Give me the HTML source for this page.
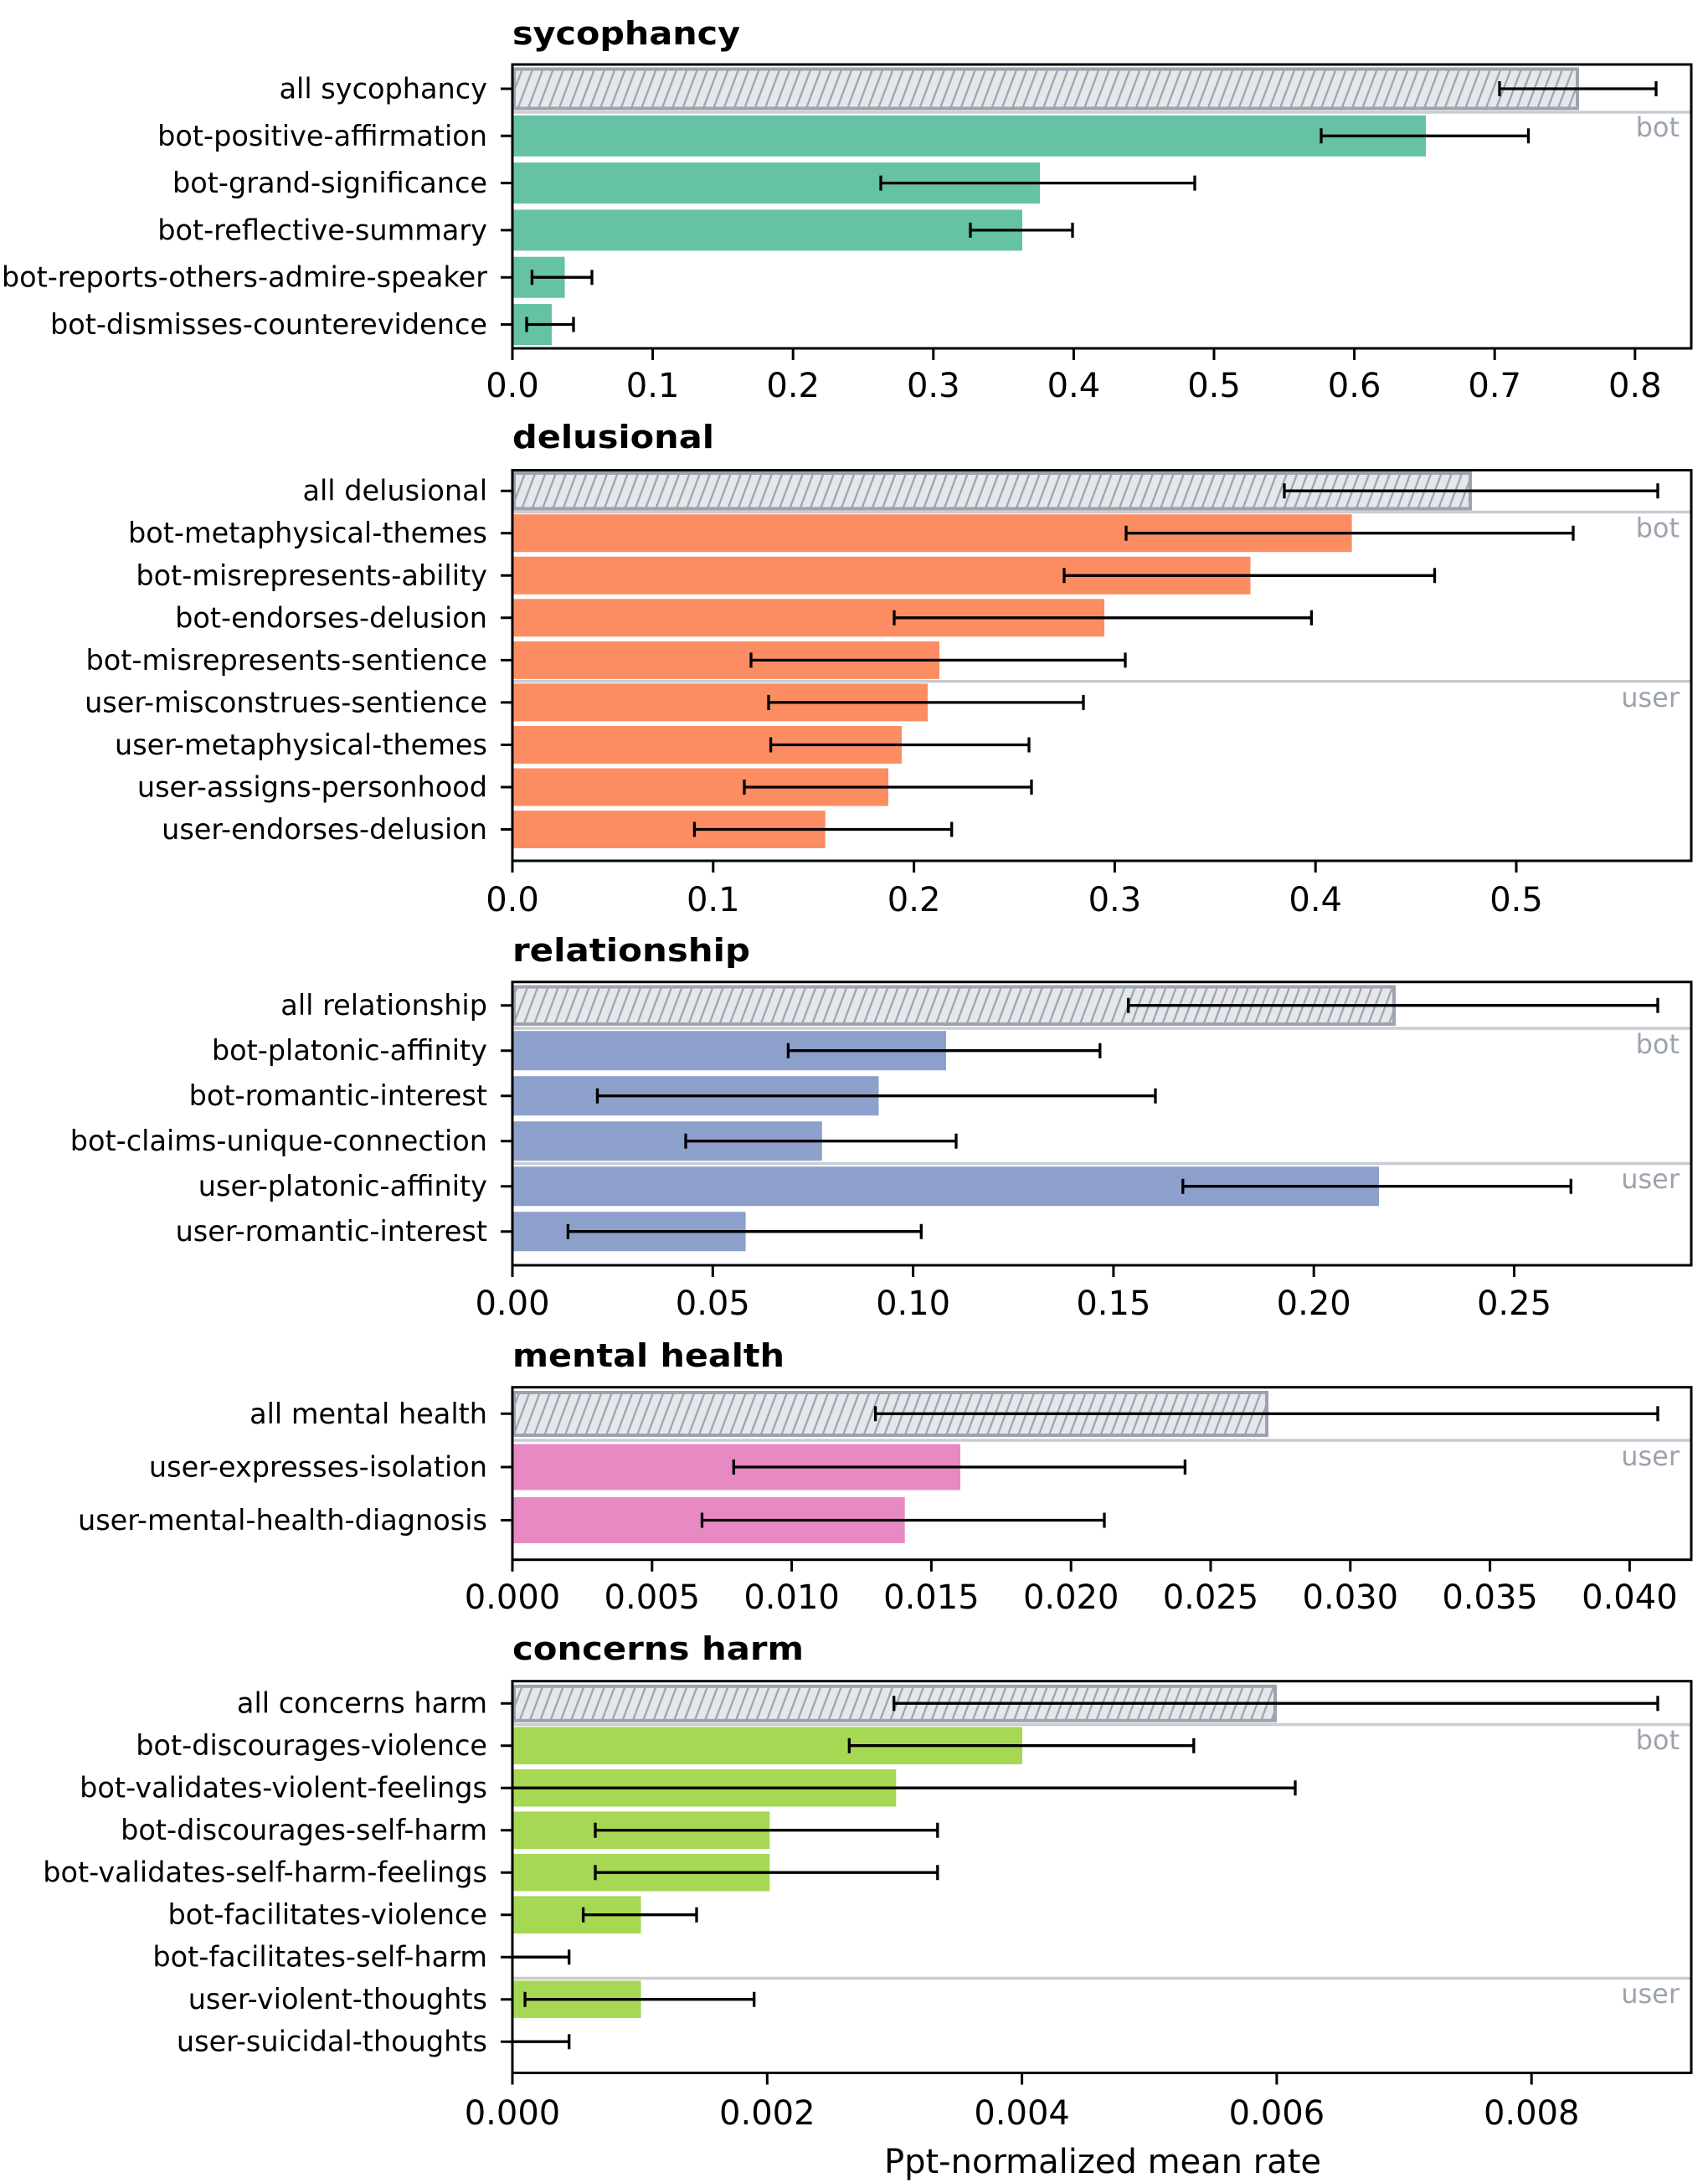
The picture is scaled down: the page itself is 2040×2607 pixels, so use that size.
<!DOCTYPE html>
<html><head><meta charset="utf-8"><style>
html,body{margin:0;padding:0;background:#fff;}
svg{display:block;}
text{font-family:"DejaVu Sans","Liberation Sans",sans-serif;}
</style></head><body>
<svg width="2040" height="2607" viewBox="0 0 2040 2607" xmlns="http://www.w3.org/2000/svg">
<defs>
<pattern id="h" patternUnits="userSpaceOnUse" width="12.3" height="40" patternTransform="skewX(-20.6)">
<line x1="3" y1="-5" x2="3" y2="45" stroke="#9ca3af" stroke-width="2.4"/>
</pattern>
</defs>

<!-- ============ PANEL 1 ============ -->
<text x="612" y="53" font-size="38" font-weight="bold" textLength="272" lengthAdjust="spacingAndGlyphs">sycophancy</text>
<line x1="612" y1="134" x2="2020" y2="134" stroke="#c8ccd3" stroke-width="3.5"/>
<text x="2006" y="163" font-size="32" fill="#9ca3af" text-anchor="end">bot</text>
<rect x="614" y="82.5" width="1270" height="47" fill="#e5e7eb"/>
<rect x="614" y="82.5" width="1270" height="47" fill="url(#h)"/>
<rect x="614" y="82.5" width="1270" height="47" fill="none" stroke="#9ca3af" stroke-width="4"/>
<g fill="#66c2a5">
<rect x="612" y="137.8" width="1091" height="49"/>
<rect x="612" y="194.1" width="630" height="49"/>
<rect x="612" y="250.4" width="609" height="49"/>
<rect x="612" y="306.7" width="62.5" height="49"/>
<rect x="612" y="363" width="47" height="49"/>
</g>
<g stroke="#000" stroke-width="3.3">
<path d="M1791 106H1978M1791 97V115M1978 97V115"/>
<path d="M1578 162.3H1825.5M1578 153.3V171.3M1825.5 153.3V171.3"/>
<path d="M1052 218.6H1427M1052 209.6V227.6M1427 209.6V227.6"/>
<path d="M1159 274.9H1281M1159 265.9V283.9M1281 265.9V283.9"/>
<path d="M635.4 331.2H707M635.4 322.2V340.2M707 322.2V340.2"/>
<path d="M629 387.5H685M629 378.5V396.5M685 378.5V396.5"/>
</g>
<rect x="612" y="77" width="1408" height="339" fill="none" stroke="#000" stroke-width="3"/>
<g stroke="#000" stroke-width="3">
<path d="M598 106H612M598 162.3H612M598 218.6H612M598 274.9H612M598 331.2H612M598 387.5H612"/>
<path d="M612 416V430M779.6 416V430M947.2 416V430M1114.8 416V430M1282.4 416V430M1450 416V430M1617.6 416V430M1785.2 416V430M1952.8 416V430"/>
</g>
<g font-size="33.5" text-anchor="end" dominant-baseline="central">
<text x="582" y="106">all sycophancy</text>
<text x="582" y="162.3">bot-positive-affirmation</text>
<text x="582" y="218.6">bot-grand-significance</text>
<text x="582" y="274.9">bot-reflective-summary</text>
<text x="582" y="331.2">bot-reports-others-admire-speaker</text>
<text x="582" y="387.5">bot-dismisses-counterevidence</text>
</g>
<g font-size="40" text-anchor="middle" dominant-baseline="central">
<text x="612" y="461">0.0</text><text x="779.6" y="461">0.1</text><text x="947.2" y="461">0.2</text><text x="1114.8" y="461">0.3</text><text x="1282.4" y="461">0.4</text><text x="1450" y="461">0.5</text><text x="1617.6" y="461">0.6</text><text x="1785.2" y="461">0.7</text><text x="1952.8" y="461">0.8</text>
</g>

<!-- ============ PANEL 2 ============ -->
<text x="612" y="535" font-size="38" font-weight="bold" textLength="241" lengthAdjust="spacingAndGlyphs">delusional</text>
<line x1="612" y1="611.5" x2="2020" y2="611.5" stroke="#c8ccd3" stroke-width="3.5"/>
<line x1="612" y1="813.7" x2="2020" y2="813.7" stroke="#c8ccd3" stroke-width="3.5"/>
<text x="2006" y="641.5" font-size="32" fill="#9ca3af" text-anchor="end">bot</text>
<text x="2006" y="844" font-size="32" fill="#9ca3af" text-anchor="end">user</text>
<rect x="614" y="565" width="1142" height="42.5" fill="#e5e7eb"/>
<rect x="614" y="565" width="1142" height="42.5" fill="url(#h)"/>
<rect x="614" y="565" width="1142" height="42.5" fill="none" stroke="#9ca3af" stroke-width="4"/>
<g fill="#fc8d62">
<rect x="612" y="614.2" width="1002.6" height="45"/>
<rect x="612" y="664.8" width="881.5" height="45"/>
<rect x="612" y="715.3" width="707" height="45"/>
<rect x="612" y="765.9" width="510" height="45"/>
<rect x="612" y="816.4" width="496" height="45"/>
<rect x="612" y="867" width="465" height="45"/>
<rect x="612" y="917.5" width="449" height="45"/>
<rect x="612" y="968" width="373.7" height="45"/>
</g>
<g stroke="#000" stroke-width="3.3">
<path d="M1534 586.2H1980M1534 577.2V595.2M1980 577.2V595.2"/>
<path d="M1345 636.7H1879M1345 627.7V645.7M1879 627.7V645.7"/>
<path d="M1271 687.3H1713.5M1271 678.3V696.3M1713.5 678.3V696.3"/>
<path d="M1068 737.8H1566.4M1068 728.8V746.8M1566.4 728.8V746.8"/>
<path d="M897 788.4H1344M897 779.4V797.4M1344 779.4V797.4"/>
<path d="M918 838.9H1294M918 829.9V847.9M1294 829.9V847.9"/>
<path d="M920.6 889.5H1229M920.6 880.5V898.5M1229 880.5V898.5"/>
<path d="M889 940H1232M889 931V949M1232 931V949"/>
<path d="M829.4 990.5H1136.7M829.4 981.5V999.5M1136.7 981.5V999.5"/>
</g>
<rect x="612" y="561.5" width="1408" height="466.5" fill="none" stroke="#000" stroke-width="3"/>
<g stroke="#000" stroke-width="3">
<path d="M598 586.2H612M598 636.7H612M598 687.3H612M598 737.8H612M598 788.4H612M598 838.9H612M598 889.5H612M598 940H612M598 990.5H612"/>
<path d="M612 1028V1042M851.8 1028V1042M1091.6 1028V1042M1331.4 1028V1042M1571.2 1028V1042M1811 1028V1042"/>
</g>
<g font-size="33.5" text-anchor="end" dominant-baseline="central">
<text x="582" y="586.2">all delusional</text>
<text x="582" y="636.7">bot-metaphysical-themes</text>
<text x="582" y="687.3">bot-misrepresents-ability</text>
<text x="582" y="737.8">bot-endorses-delusion</text>
<text x="582" y="788.4">bot-misrepresents-sentience</text>
<text x="582" y="838.9">user-misconstrues-sentience</text>
<text x="582" y="889.5">user-metaphysical-themes</text>
<text x="582" y="940">user-assigns-personhood</text>
<text x="582" y="990.5">user-endorses-delusion</text>
</g>
<g font-size="40" text-anchor="middle" dominant-baseline="central">
<text x="612" y="1075">0.0</text><text x="851.8" y="1075">0.1</text><text x="1091.6" y="1075">0.2</text><text x="1331.4" y="1075">0.3</text><text x="1571.2" y="1075">0.4</text><text x="1811" y="1075">0.5</text>
</g>

<!-- ============ PANEL 3 ============ -->
<text x="612" y="1148" font-size="38" font-weight="bold" textLength="284" lengthAdjust="spacingAndGlyphs">relationship</text>
<line x1="612" y1="1228" x2="2020" y2="1228" stroke="#c8ccd3" stroke-width="3.5"/>
<line x1="612" y1="1389.5" x2="2020" y2="1389.5" stroke="#c8ccd3" stroke-width="3.5"/>
<text x="2006" y="1258" font-size="32" fill="#9ca3af" text-anchor="end">bot</text>
<text x="2006" y="1419" font-size="32" fill="#9ca3af" text-anchor="end">user</text>
<rect x="614" y="1178.5" width="1051" height="44.5" fill="#e5e7eb"/>
<rect x="614" y="1178.5" width="1051" height="44.5" fill="url(#h)"/>
<rect x="614" y="1178.5" width="1051" height="44.5" fill="none" stroke="#9ca3af" stroke-width="4"/>
<g fill="#8da0cb">
<rect x="612" y="1231.2" width="518" height="47"/>
<rect x="612" y="1285.2" width="437.5" height="47"/>
<rect x="612" y="1339.2" width="369.8" height="47"/>
<rect x="612" y="1393.2" width="1035" height="47"/>
<rect x="612" y="1447.2" width="278.6" height="47"/>
</g>
<g stroke="#000" stroke-width="3.3">
<path d="M1347.7 1200.7H1980M1347.7 1191.7V1209.7M1980 1191.7V1209.7"/>
<path d="M941.4 1254.7H1313.8M941.4 1245.7V1263.7M1313.8 1245.7V1263.7"/>
<path d="M713.5 1308.7H1380M713.5 1299.7V1317.7M1380 1299.7V1317.7"/>
<path d="M819 1362.7H1142M819 1353.7V1371.7M1142 1353.7V1371.7"/>
<path d="M1412.8 1416.7H1876.3M1412.8 1407.7V1425.7M1876.3 1407.7V1425.7"/>
<path d="M678.4 1470.7H1100.3M678.4 1461.7V1479.7M1100.3 1461.7V1479.7"/>
</g>
<rect x="612" y="1172.7" width="1408" height="338.3" fill="none" stroke="#000" stroke-width="3"/>
<g stroke="#000" stroke-width="3">
<path d="M598 1200.7H612M598 1254.7H612M598 1308.7H612M598 1362.7H612M598 1416.7H612M598 1470.7H612"/>
<path d="M612 1511V1525M851.3 1511V1525M1090.6 1511V1525M1329.9 1511V1525M1569.2 1511V1525M1808.5 1511V1525"/>
</g>
<g font-size="33.5" text-anchor="end" dominant-baseline="central">
<text x="582" y="1200.7">all relationship</text>
<text x="582" y="1254.7">bot-platonic-affinity</text>
<text x="582" y="1308.7">bot-romantic-interest</text>
<text x="582" y="1362.7">bot-claims-unique-connection</text>
<text x="582" y="1416.7">user-platonic-affinity</text>
<text x="582" y="1470.7">user-romantic-interest</text>
</g>
<g font-size="40" text-anchor="middle" dominant-baseline="central">
<text x="612" y="1557">0.00</text><text x="851.3" y="1557">0.05</text><text x="1090.6" y="1557">0.10</text><text x="1329.9" y="1557">0.15</text><text x="1569.2" y="1557">0.20</text><text x="1808.5" y="1557">0.25</text>
</g>

<!-- ============ PANEL 4 ============ -->
<text x="612" y="1632" font-size="38" font-weight="bold" textLength="325" lengthAdjust="spacingAndGlyphs">mental health</text>
<line x1="612" y1="1720" x2="2020" y2="1720" stroke="#c8ccd3" stroke-width="3.5"/>
<text x="2006" y="1750" font-size="32" fill="#9ca3af" text-anchor="end">user</text>
<rect x="614" y="1663" width="899" height="51" fill="#e5e7eb"/>
<rect x="614" y="1663" width="899" height="51" fill="url(#h)"/>
<rect x="614" y="1663" width="899" height="51" fill="none" stroke="#9ca3af" stroke-width="4"/>
<g fill="#e78ac3">
<rect x="612" y="1724.5" width="535" height="55"/>
<rect x="612" y="1788" width="468.7" height="55"/>
</g>
<g stroke="#000" stroke-width="3.3">
<path d="M1045.6 1688.3H1980M1045.6 1679.3V1697.3M1980 1679.3V1697.3"/>
<path d="M876.3 1752H1415.4M876.3 1743V1761M1415.4 1743V1761"/>
<path d="M838.5 1815.5H1319M838.5 1806.5V1824.5M1319 1806.5V1824.5"/>
</g>
<rect x="612" y="1656.7" width="1408" height="206" fill="none" stroke="#000" stroke-width="3"/>
<g stroke="#000" stroke-width="3">
<path d="M598 1688.3H612M598 1752H612M598 1815.5H612"/>
<path d="M612 1862.7V1876.7M778.8 1862.7V1876.7M945.6 1862.7V1876.7M1112.4 1862.7V1876.7M1279.2 1862.7V1876.7M1446 1862.7V1876.7M1612.8 1862.7V1876.7M1779.6 1862.7V1876.7M1946.4 1862.7V1876.7"/>
</g>
<g font-size="33.5" text-anchor="end" dominant-baseline="central">
<text x="582" y="1688.3">all mental health</text>
<text x="582" y="1752">user-expresses-isolation</text>
<text x="582" y="1815.5">user-mental-health-diagnosis</text>
</g>
<g font-size="40" text-anchor="middle" dominant-baseline="central">
<text x="612" y="1908">0.000</text><text x="778.8" y="1908">0.005</text><text x="945.6" y="1908">0.010</text><text x="1112.4" y="1908">0.015</text><text x="1279.2" y="1908">0.020</text><text x="1446" y="1908">0.025</text><text x="1612.8" y="1908">0.030</text><text x="1779.6" y="1908">0.035</text><text x="1946.4" y="1908">0.040</text>
</g>

<!-- ============ PANEL 5 ============ -->
<text x="612" y="1982" font-size="38" font-weight="bold" textLength="348" lengthAdjust="spacingAndGlyphs">concerns harm</text>
<line x1="612" y1="2059.5" x2="2020" y2="2059.5" stroke="#c8ccd3" stroke-width="3.5"/>
<line x1="612" y1="2362.5" x2="2020" y2="2362.5" stroke="#c8ccd3" stroke-width="3.5"/>
<text x="2006" y="2089" font-size="32" fill="#9ca3af" text-anchor="end">bot</text>
<text x="2006" y="2392" font-size="32" fill="#9ca3af" text-anchor="end">user</text>
<rect x="614" y="2013.8" width="909" height="41" fill="#e5e7eb"/>
<rect x="614" y="2013.8" width="909" height="41" fill="url(#h)"/>
<rect x="614" y="2013.8" width="909" height="41" fill="none" stroke="#9ca3af" stroke-width="4"/>
<g fill="#a6d854">
<rect x="612" y="2062.4" width="609" height="44.6"/>
<rect x="612" y="2112.9" width="458.3" height="44.6"/>
<rect x="612" y="2163.4" width="307.3" height="44.6"/>
<rect x="612" y="2213.9" width="307.3" height="44.6"/>
<rect x="612" y="2264.4" width="153.6" height="44.6"/>
<rect x="612" y="2365.4" width="153.6" height="44.6"/>
</g>
<g stroke="#000" stroke-width="3.3">
<path d="M1067.7 2034.2H1980M1067.7 2025.2V2043.2M1980 2025.2V2043.2"/>
<path d="M1014.3 2084.7H1425.8M1014.3 2075.7V2093.7M1425.8 2075.7V2093.7"/>
<path d="M612 2135.2H1547M1547 2126.2V2144.2"/>
<path d="M711 2185.7H1119.8M711 2176.7V2194.7M1119.8 2176.7V2194.7"/>
<path d="M711 2236.2H1119.8M711 2227.2V2245.2M1119.8 2227.2V2245.2"/>
<path d="M696.6 2286.7H832M696.6 2277.7V2295.7M832 2277.7V2295.7"/>
<path d="M612 2337.2H679.7M679.7 2328.2V2346.2"/>
<path d="M627 2387.7H900.7M627 2378.7V2396.7M900.7 2378.7V2396.7"/>
<path d="M612 2438.2H679.7M679.7 2429.2V2447.2"/>
</g>
<rect x="612" y="2007.7" width="1408" height="467.8" fill="none" stroke="#000" stroke-width="3"/>
<g stroke="#000" stroke-width="3">
<path d="M598 2034.2H612M598 2084.7H612M598 2135.2H612M598 2185.7H612M598 2236.2H612M598 2286.7H612M598 2337.2H612M598 2387.7H612M598 2438.2H612"/>
<path d="M612 2475.5V2489.5M916.3 2475.5V2489.5M1220.6 2475.5V2489.5M1524.9 2475.5V2489.5M1829.2 2475.5V2489.5"/>
</g>
<g font-size="33.5" text-anchor="end" dominant-baseline="central">
<text x="582" y="2034.2">all concerns harm</text>
<text x="582" y="2084.7">bot-discourages-violence</text>
<text x="582" y="2135.2">bot-validates-violent-feelings</text>
<text x="582" y="2185.7">bot-discourages-self-harm</text>
<text x="582" y="2236.2">bot-validates-self-harm-feelings</text>
<text x="582" y="2286.7">bot-facilitates-violence</text>
<text x="582" y="2337.2">bot-facilitates-self-harm</text>
<text x="582" y="2387.7">user-violent-thoughts</text>
<text x="582" y="2438.2">user-suicidal-thoughts</text>
</g>
<g font-size="40" text-anchor="middle" dominant-baseline="central">
<text x="612" y="2524">0.000</text><text x="916.3" y="2524">0.002</text><text x="1220.6" y="2524">0.004</text><text x="1524.9" y="2524">0.006</text><text x="1829.2" y="2524">0.008</text>
</g>
<text x="1317" y="2582" font-size="40" text-anchor="middle" dominant-baseline="central">Ppt-normalized mean rate</text>
</svg>
</body></html>
